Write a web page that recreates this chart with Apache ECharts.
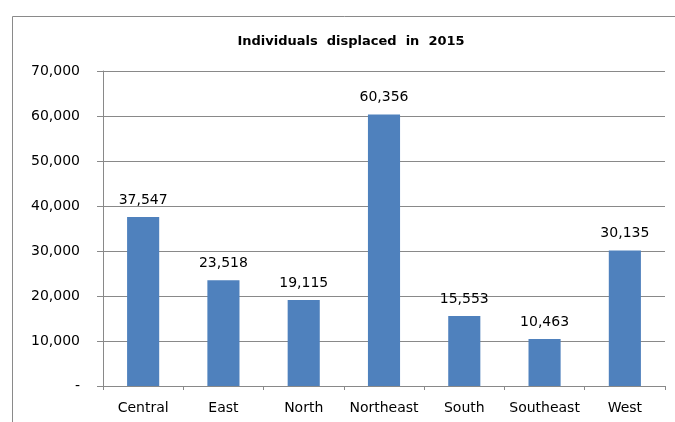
<!DOCTYPE html>
<html>
<head>
<meta charset="utf-8">
<script src="https://cdn.jsdelivr.net/npm/echarts@6/dist/echarts.min.js"></script>
<style>
  html,body{margin:0;padding:0;background:#fff;}
  #main{width:675px;height:422px;}
</style>
</head>
<body>
<div id="main"></div>
<script>
// chart data
var regions = ['Central', 'East', 'North', 'Northeast', 'South', 'Southeast', 'West'];
var displaced = [37547, 23518, 19115, 60356, 15553, 10463, 30135];
var yTicks = [0, 10000, 20000, 30000, 40000, 50000, 60000, 70000];

var fmt = function (v) {
    if (v === 0) return '-';
    return String(v).replace(/\B(?=(\d{3})+(?!\d))/g, ',');
};

var chart = echarts.init(document.getElementById('main'));
var gridColor = '#898989';
var txtFont = 'DejaVu Sans';

chart.setOption({
    animation: false,
    title: {
        text: 'Individuals  displaced  in  2015',
        left: 346,
        top: 30,
        textAlign: 'center',
        textStyle: {fontFamily: txtFont, fontSize: 13, fontWeight: 'bold', color: '#000'}
    },
    graphic: [{
        type: 'rect',
        shape: {x: 12.5, y: 16.5, width: 720, height: 500},
        style: {fill: 'none', stroke: '#8a8a8a', lineWidth: 1},
        silent: true
    }],
    grid: {left: 103, right: 10, top: 71, bottom: 36},
    xAxis: {
        type: 'category',
        data: regions,
        axisLine: {lineStyle: {color: gridColor}},
        axisTick: {show: true, length: 4, lineStyle: {color: gridColor}},
        axisLabel: {interval: 0, margin: 15, fontFamily: txtFont, fontSize: 14, color: '#000'}
    },
    yAxis: {
        type: 'value',
        min: yTicks[0],
        max: yTicks[yTicks.length - 1],
        interval: yTicks[1] - yTicks[0],
        axisLine: {show: true, lineStyle: {color: gridColor}},
        axisTick: {show: true, length: 6, lineStyle: {color: gridColor}},
        splitLine: {lineStyle: {color: gridColor}},
        axisLabel: {margin: 23, fontFamily: txtFont, fontSize: 14, color: '#000', formatter: fmt}
    },
    series: [{
        type: 'bar',
        data: displaced,
        barWidth: '40%',
        itemStyle: {color: '#4F81BD'},
        label: {
            show: true,
            position: 'top',
            distance: 10,
            fontFamily: txtFont,
            fontSize: 14,
            color: '#000',
            formatter: function (p) { return fmt(p.value); }
        }
    }]
});
</script>
</body>
</html>
